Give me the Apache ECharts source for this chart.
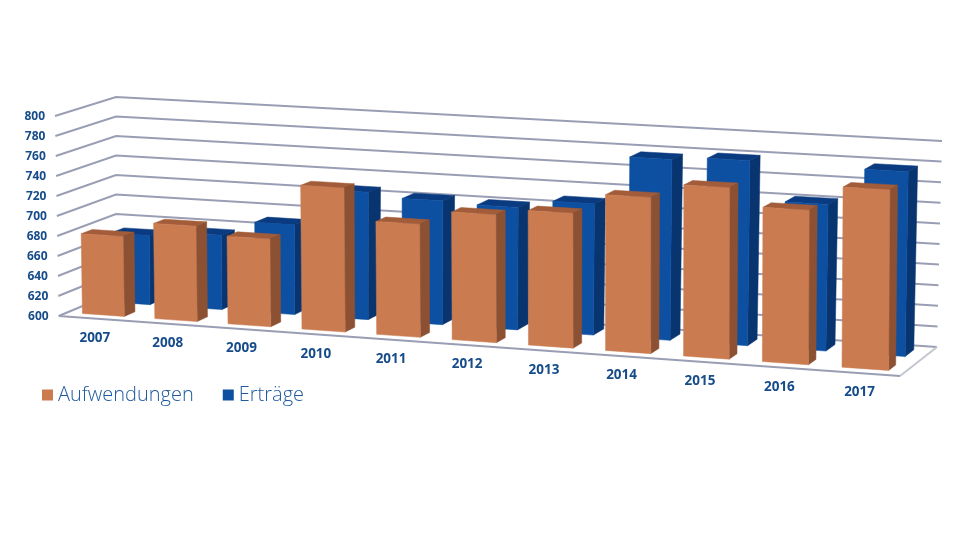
<!DOCTYPE html>
<html>
<head>
<meta charset="utf-8">
<style>
  html, body { margin: 0; padding: 0; background: #fff; }
  #chart { width: 960px; height: 540px; }
</style>
<script src="https://cdn.jsdelivr.net/npm/echarts@6/dist/echarts.min.js"></script>
</head>
<body>
<div id="chart"></div>
<script>
const years = ['2007', '2008', '2009', '2010', '2011', '2012', '2013', '2014', '2015', '2016', '2017'];
const aufwendungen = [680, 695, 687, 742, 711, 725, 731, 751, 765, 748, 772];
const ertraege = [670, 675, 690, 727, 723, 721, 729, 777, 780, 742, 778];
const yTicks = [600, 620, 640, 660, 680, 700, 720, 740, 760, 780, 800];

// corners of the 3d box on screen
const box = {
  floorFront: [[58.7, 316], [900, 376]],
  floorBack: [[116, 292], [937, 347]],
  topFront: [[55, 116], [901, 165]],
  topBack: [[116, 97], [942, 141]],
};
const GRID = { left: 0, top: 116, width: 960, height: 200 };
const PERSPECTIVE = 1.06;
// bar width as share of a category slot, blue sits further back so it looks narrower
const ORANGE_WIDTH = 0.58;
const BLUE_WIDTH = 0.545;
const ORANGE_DEPTH = [0.15, 0.34];
const BLUE_DEPTH = [0.63, 0.86];
const LABEL_COLOR = '#174c8a';
const LINE_COLOR = '#9a9eb4';
const FLOOR_EDGE_COLOR = '#c4c6d0';
const ORANGE = { front: '#cb7b50', side: '#8c5032', top: '#a25c39' };
const BLUE = { front: '#0d4fa1', side: '#08346f', top: '#0a3b80' };

const lerp = (a, b, k) => [a[0] + (b[0] - a[0]) * k, a[1] + (b[1] - a[1]) * k];

// t: 0-1 along the categories, v: 0-1 front to back, z: 0-1 floor to top
function project(t, v, z) {
  const u = t / (t + PERSPECTIVE * (1 - t));
  const floor = lerp(lerp(box.floorFront[0], box.floorFront[1], u), lerp(box.floorBack[0], box.floorBack[1], u), v);
  const top = lerp(lerp(box.topFront[0], box.topFront[1], u), lerp(box.topBack[0], box.topBack[1], u), v);
  return lerp(floor, top, z);
}

// pixel from the hidden cartesian axes -> box coordinates
const toT = (x) => (x - GRID.left) / GRID.width;
const toZ = (y) => (GRID.top + GRID.height - y) / GRID.height;

const poly = (points, fill) => ({
  type: 'polygon',
  shape: { points },
  style: { fill, stroke: fill, lineWidth: 0.5 },
});

const line = (points, stroke) => ({
  type: 'polyline',
  shape: { points },
  style: { fill: null, stroke, lineWidth: 2 },
});

function barRenderer(depth, width, colors) {
  return (params, api) => {
    const pos = api.coord([api.value(0), api.value(1)]);
    const half = (api.size([1, 0])[0] * width) / 2;
    const t0 = toT(pos[0] - half);
    const t1 = toT(pos[0] + half);
    const z = toZ(pos[1]);
    const [v0, v1] = depth;
    return {
      type: 'group',
      children: [
        poly([project(t0, v0, z), project(t1, v0, z), project(t1, v1, z), project(t0, v1, z)], colors.top),
        poly([project(t1, v0, 0), project(t1, v1, 0), project(t1, v1, z), project(t1, v0, z)], colors.side),
        poly([project(t0, v0, 0), project(t1, v0, 0), project(t1, v0, z), project(t0, v0, z)], colors.front),
      ],
    };
  };
}

function gridRenderer(params, api) {
  const z = toZ(api.coord([0, api.value(1)])[1]);
  const left = project(0, 0, z);
  const children = [
    line([left, project(0, 1, z), project(1, 1, z)], LINE_COLOR),
    {
      type: 'text',
      style: {
        text: String(api.value(1)),
        x: left[0] - 10,
        y: left[1] + 1,
        align: 'right',
        verticalAlign: 'middle',
        fill: LABEL_COLOR,
        font: 'bold 12px "Open Sans"',
      },
    },
  ];
  if (z === 0) {
    children.push(line([project(1, 0, 0), project(1, 1, 0)], FLOOR_EDGE_COLOR));
    children.push(line([project(0, 0, 0), project(1, 0, 0)], LINE_COLOR));
  }
  return { type: 'group', children };
}

function yearRenderer(params, api) {
  const pos = api.coord([api.value(0), yTicks[0]]);
  const p = project(toT(pos[0]), 0, 0);
  return {
    type: 'text',
    style: {
      text: years[api.value(0)],
      x: p[0],
      y: p[1] + 19.5,
      align: 'center',
      verticalAlign: 'middle',
      fill: LABEL_COLOR,
      font: 'bold 13.5px "Open Sans"',
    },
  };
}

const chart = echarts.init(document.getElementById('chart'));
chart.setOption({
  animation: false,
  backgroundColor: '#fff',
  grid: GRID,
  xAxis: { type: 'category', data: years, show: false },
  yAxis: { type: 'value', min: yTicks[0], max: yTicks[yTicks.length - 1], interval: 20, show: false },
  legend: {
    data: ['Aufwendungen', 'Erträge'],
    left: 42,
    top: 385,
    padding: 0,
    icon: 'rect',
    itemWidth: 11,
    itemHeight: 11,
    itemGap: 29,
    textStyle: { color: '#1f5a9e', fontFamily: 'Open Sans', fontWeight: 300, fontSize: 20 },
  },
  series: [
    {
      type: 'custom',
      name: 'grid',
      z: 1,
      silent: true,
      data: yTicks.map((v) => [0, v]),
      renderItem: gridRenderer,
    },
    {
      type: 'custom',
      name: 'Erträge',
      z: 2,
      itemStyle: { color: BLUE.front },
      data: ertraege.map((v, i) => [i, v]),
      renderItem: barRenderer(BLUE_DEPTH, BLUE_WIDTH, BLUE),
    },
    {
      type: 'custom',
      name: 'Aufwendungen',
      z: 3,
      itemStyle: { color: ORANGE.front },
      data: aufwendungen.map((v, i) => [i, v]),
      renderItem: barRenderer(ORANGE_DEPTH, ORANGE_WIDTH, ORANGE),
    },
    {
      type: 'custom',
      name: 'years',
      z: 4,
      silent: true,
      data: years.map((y, i) => [i, yTicks[0]]),
      renderItem: yearRenderer,
    },
  ],
});
</script>
</body>
</html>
